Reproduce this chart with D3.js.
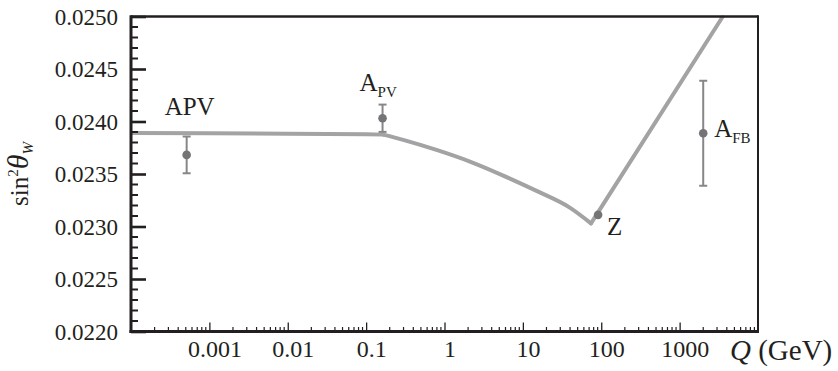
<!DOCTYPE html>
<html>
<head>
<meta charset="utf-8">
<script src="https://cdn.jsdelivr.net/npm/d3@7"></script>
<style>
  html, body { margin: 0; padding: 0; background: #fff; }
  svg { display: block; }
</style>
</head>
<body>
<svg id="chart" width="838" height="371"></svg>
<script>
// ---- data ----
const yTickValues = [0.0220, 0.0225, 0.0230, 0.0235, 0.0240, 0.0245, 0.0250];
const yTickLabels = ["0.0220", "0.0225", "0.0230", "0.0235", "0.0240", "0.0245", "0.0250"];
const xTickValues = [0.001, 0.01, 0.1, 1, 10, 100, 1000];
const xTickLabels = ["0.001", "0.01", "0.1", "1", "10", "100", "1000"];

// running sin^2 theta_W curve (Q in GeV)
const curveQ = [0.0001, 0.001, 0.01, 0.1, 0.165, 0.297, 0.79, 2.11, 5.61, 14.96, 39.7, 74.0, 3556];
const curveS = [0.023890, 0.023887, 0.023884, 0.023879, 0.023875, 0.023825, 0.023729, 0.023618, 0.023485, 0.023339, 0.023180, 0.023030, 0.025000];

// measurements
const pointNames = ["APV", "A", "Z", "A"];
const pointSubs  = ["", "PV", "", "FB"];
const pointQ   = [0.000513, 0.162, 91.2, 2000];
const pointS   = [0.023682, 0.024031, 0.023111, 0.023888];
const pointErr = [0.000175, 0.000130, 0, 0.000500];

// ---- layout ----
const FONT = "'Liberation Serif'";
const svg = d3.select("#chart");
const margin = { left: 131, right: 80, top: 16.5, bottom: 39.5 };
const W = 838, H = 371;
const x = d3.scaleLog().domain([1e-4, 1e4]).range([margin.left, W - margin.right]);
const y = d3.scaleLinear().domain([0.0220, 0.0250]).range([H - margin.bottom, margin.top]);

const ink = "#231f20";
const curveColor = "#a3a3a5";
const pointColor = "#747476";
const barColor = "#87878a";

svg.append("clipPath").attr("id", "plotclip")
  .append("rect").attr("x", margin.left).attr("y", margin.top - 1)
  .attr("width", W - margin.right - margin.left).attr("height", H - margin.bottom - margin.top + 1);

// curve: flat part, smooth running part, straight rise (split at the kinks)
const idx = d3.range(curveQ.length);
const kinkA = 4, kinkB = 11;
const segs = [
  { ids: idx.slice(0, kinkA + 1), curve: d3.curveLinear },
  { ids: idx.slice(kinkA, kinkB + 1), curve: d3.curveMonotoneX },
  { ids: idx.slice(kinkB), curve: d3.curveLinear }
];
segs.forEach(s => {
  const line = d3.line().x(i => x(curveQ[i])).y(i => y(curveS[i])).curve(s.curve);
  svg.append("path")
    .datum(s.ids)
    .attr("d", line)
    .attr("fill", "none")
    .attr("stroke", curveColor)
    .attr("stroke-width", 4)
    .attr("stroke-linecap", "round")
    .attr("clip-path", "url(#plotclip)");
});

// error bars
const capW = 4;
pointQ.forEach((q, i) => {
  if (pointErr[i] <= 0) return;
  const g = svg.append("g").attr("stroke", barColor).attr("stroke-width", 2);
  const cx = x(q);
  g.append("line").attr("x1", cx).attr("x2", cx).attr("y1", y(pointS[i] - pointErr[i])).attr("y2", y(pointS[i] + pointErr[i]));
  [pointS[i] - pointErr[i], pointS[i] + pointErr[i]].forEach(v => {
    g.append("line").attr("x1", cx - capW).attr("x2", cx + capW).attr("y1", y(v)).attr("y2", y(v));
  });
});

// points
svg.selectAll("circle.pt").data(pointQ).enter().append("circle")
  .attr("class", "pt")
  .attr("cx", d => x(d))
  .attr("cy", (d, i) => y(pointS[i]))
  .attr("r", 4.3)
  .attr("fill", pointColor);

// point labels
const labelOffsets = [[-22, -40], [-23, -27], [9, 20], [11, 4]];
pointQ.forEach((q, i) => {
  const t = svg.append("text")
    .attr("x", x(q) + labelOffsets[i][0])
    .attr("y", y(pointS[i]) + labelOffsets[i][1])
    .attr("font-size", 25)
    .attr("fill", ink)
    .style("font-family", FONT);
  t.append("tspan").text(pointNames[i]);
  if (pointSubs[i]) {
    t.append("tspan").attr("font-size", 15).attr("dy", 6).text(pointSubs[i]);
  }
});

// ---- axes / frame ----
const x0 = margin.left, x1 = W - margin.right, yb = H - margin.bottom, yt = margin.top;
svg.append("line").attr("x1", x0).attr("x2", x1).attr("y1", yt).attr("y2", yt).attr("stroke", ink).attr("stroke-width", 2.4);
svg.append("line").attr("x1", x1).attr("x2", x1).attr("y1", yt - 1.2).attr("y2", yb).attr("stroke", ink).attr("stroke-width", 2);

const yMinor = d3.range(0, 31).map(k => 0.0220 + k * 0.0001).filter(v => Math.round(v * 1e4) % 5 !== 0);
svg.append("g").selectAll("line").data(yMinor).enter().append("line")
  .attr("x1", x0).attr("x2", x0 + 7)
  .attr("y1", d => y(d)).attr("y2", d => y(d))
  .attr("stroke", ink).attr("stroke-width", 2);

const yAxis = d3.axisRight(y).tickValues(yTickValues).tickSize(15).tickFormat((d, i) => yTickLabels[i]);
const gy = svg.append("g").attr("transform", `translate(${x0},0)`).call(yAxis)
  .attr("font-family", null).attr("font-size", null);
gy.select(".domain").remove();
gy.selectAll(".tick line").attr("stroke", ink).attr("stroke-width", 2.6);
gy.selectAll(".tick text")
  .attr("x", -13).attr("text-anchor", "end").attr("dy", "0.34em")
  .attr("font-size", 23).attr("fill", ink)
  .style("font-family", FONT);

const xMinor = [];
for (let e = -4; e < 4; e++) for (let m = 2; m <= 9; m++) xMinor.push(m * Math.pow(10, e));
svg.append("g").selectAll("line").data(xMinor).enter().append("line")
  .attr("x1", d => x(d)).attr("x2", d => x(d))
  .attr("y1", yb).attr("y2", yb - 4.5)
  .attr("stroke", ink).attr("stroke-width", 1.2);

const xAxis = d3.axisTop(x).tickValues(xTickValues).tickSize(9).tickFormat((d, i) => xTickLabels[i]);
const gx = svg.append("g").attr("transform", `translate(0,${yb})`).call(xAxis)
  .attr("font-family", null).attr("font-size", null);
gx.select(".domain").remove();
gx.selectAll(".tick line").attr("stroke", ink).attr("stroke-width", 1.3);
gx.selectAll(".tick text")
  .attr("y", 25).attr("dy", 0).attr("dx", 5)
  .attr("font-size", 24).attr("fill", ink)
  .style("font-family", FONT);

svg.append("line").attr("x1", x0).attr("x2", x0).attr("y1", yt - 1.2).attr("y2", yb + 1.5).attr("stroke", ink).attr("stroke-width", 3);
svg.append("line").attr("x1", x0 - 1.5).attr("x2", x1 + 1).attr("y1", yb).attr("y2", yb).attr("stroke", ink).attr("stroke-width", 3);

// x axis title
const xt = svg.append("text").attr("x", 730).attr("y", 360).attr("font-size", 29).attr("fill", ink).style("font-family", FONT);
xt.append("tspan").attr("font-style", "italic").text("Q");
xt.append("tspan").text(" (GeV)");

// y axis title
const yt2 = svg.append("text")
  .attr("transform", "translate(28,174) rotate(-90)")
  .attr("text-anchor", "middle")
  .attr("font-size", 25).attr("fill", ink)
  .style("font-family", FONT);
yt2.append("tspan").text("sin");
yt2.append("tspan").attr("font-size", 15).attr("dy", -10).text("2");
yt2.append("tspan").attr("font-style", "italic").attr("font-size", 30).attr("dy", 10).text("θ");
yt2.append("tspan").attr("font-style", "italic").attr("font-size", 15).attr("dy", 5).text("W");
</script>
</body>
</html>
